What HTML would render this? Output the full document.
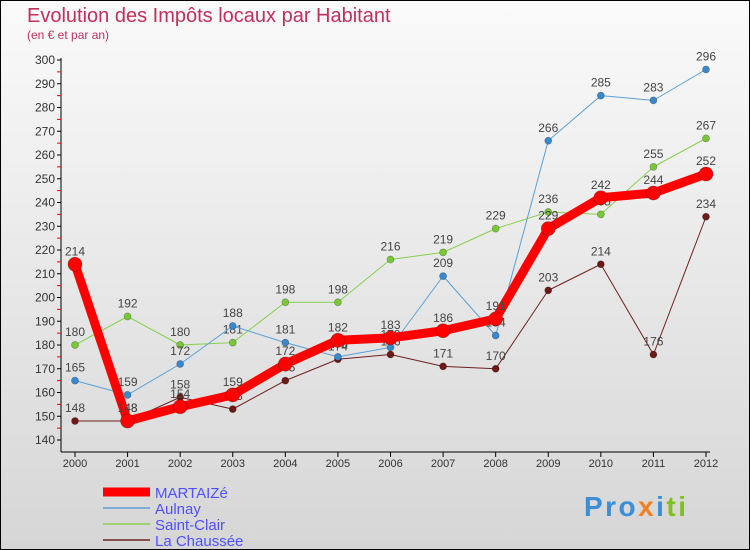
<!DOCTYPE html>
<html><head><meta charset="utf-8"><style>
body{margin:0}
#c{width:750px;height:550px;position:relative;box-sizing:border-box;border:1px solid #000;background:linear-gradient(#fafafa,#d6d6d6);font-family:"Liberation Sans","DejaVu Sans",sans-serif;overflow:hidden}
</style></head><body>
<div id="c">
<svg width="750" height="550" style="position:absolute;left:-1px;top:-1px" id="svg">
<text x="27" y="22" font-size="20" fill="#c0305a">Evolution des Impôts locaux par Habitant</text>
<text x="27" y="39" font-size="12" fill="#c0305a">(en € et par an)</text>
<g id="axes"></g><g id="series"></g><g id="legend"></g>
<text x="584" y="516" font-size="28" font-weight="bold" textLength="102"><tspan fill="#3a8fd8">Pro</tspan><tspan fill="#f08020">x</tspan><tspan fill="#3a8fd8">i</tspan><tspan fill="#80c020">ti</tspan></text>
</svg>
</div>
<script>
const years=[2000,2001,2002,2003,2004,2005,2006,2007,2008,2009,2010,2011,2012];
const yTicks=[140,150,160,170,180,190,200,210,220,230,240,250,260,270,280,290,300];
const martaize=[214,148,154,159,172,182,183,186,191,229,242,244,252];
const aulnay=[165,159,172,188,181,175,179,209,184,266,285,283,296];
const saintClair=[180,192,180,181,198,198,216,219,229,236,235,255,267];
const laChaussee=[148,148,158,153,165,174,176,171,170,203,214,176,234];
const NS="http://www.w3.org/2000/svg";
const X=i=>75+i*(706-75)/12;
const Y=v=>60+(300-v)*380/160;
function mk(t,a,p){const e=document.createElementNS(NS,t);for(const k in a)e.setAttribute(k,a[k]);p.appendChild(e);return e;}
const ax=document.getElementById('axes');
let e=mk('line',{x1:61,y1:58,x2:61,y2:452,stroke:'#000'},ax);


e=mk('line',{x1:61,y1:452,x2:710,y2:452,stroke:'#000'},ax);


yTicks.forEach(v=>{
 mk('line',{x1:57,y1:Y(v),x2:61,y2:Y(v),stroke:'#000'},ax);
 if(v<300)mk('line',{x1:57,y1:Y(v+5),x2:61,y2:Y(v+5),stroke:'#e00'},ax);
 const t=mk('text',{x:55,y:Y(v)+4,'font-size':12,fill:'#333','text-anchor':'end'},ax);t.textContent=v;
 
 
});
years.forEach((y,i)=>{
 mk('line',{x1:X(i),y1:452,x2:X(i),y2:457,stroke:'#000'},ax);
 const t=mk('text',{x:X(i),y:467,'font-size':11,fill:'#333','text-anchor':'middle'},ax);t.textContent=y;
 
 
});
const sg=document.getElementById('series');
const series=[
 {n:'La Chaussée',d:laChaussee,c:'#6e2020',w:1,r:3.5,f:'#6e1818'},
 {n:'Saint-Clair',d:saintClair,c:'#88d050',w:1,r:3.5,f:'#78c838'},
 {n:'Aulnay',d:aulnay,c:'#5aa0d8',w:1,r:3.5,f:'#3a88cc'},
 {n:'MARTAIZé',d:martaize,c:'#ff0000',w:9,r:7,f:'#ff0000'}
];
series.forEach(s=>{
 const g=mk('g',{},sg);
 
 
 mk('polyline',{points:s.d.map((v,i)=>X(i)+','+Y(v)).join(' '),fill:'none',stroke:s.c,'stroke-width':s.w,'stroke-linejoin':'round'},g);
 s.d.forEach((v,i)=>{
  const c=mk('circle',{cx:X(i),cy:Y(v),r:s.r,fill:s.f,stroke:'rgba(0,0,0,0.3)','stroke-width':0.7},g);
  
  
  const t=mk('text',{x:X(i),y:Y(v)-9,'font-size':12,fill:'#444','text-anchor':'middle'},g);t.textContent=v;
 });
});
const lg=document.getElementById('legend');
[{n:'MARTAIZé',c:'#ff0000',w:9},{n:'Aulnay',c:'#5aa0d8',w:1.5},{n:'Saint-Clair',c:'#88d050',w:1.5},{n:'La Chaussée',c:'#6e2020',w:1.5}].forEach((s,i)=>{
 const y=492+i*16;
 const g=mk('g',{},lg);
 
 
 mk('line',{x1:103,y1:y,x2:150,y2:y,stroke:s.c,'stroke-width':s.w},g);
 const t=mk('text',{x:155,y:y+6,'font-size':15,fill:'#5050ff'},g);t.textContent=s.n;
});
</script>
</body></html>
